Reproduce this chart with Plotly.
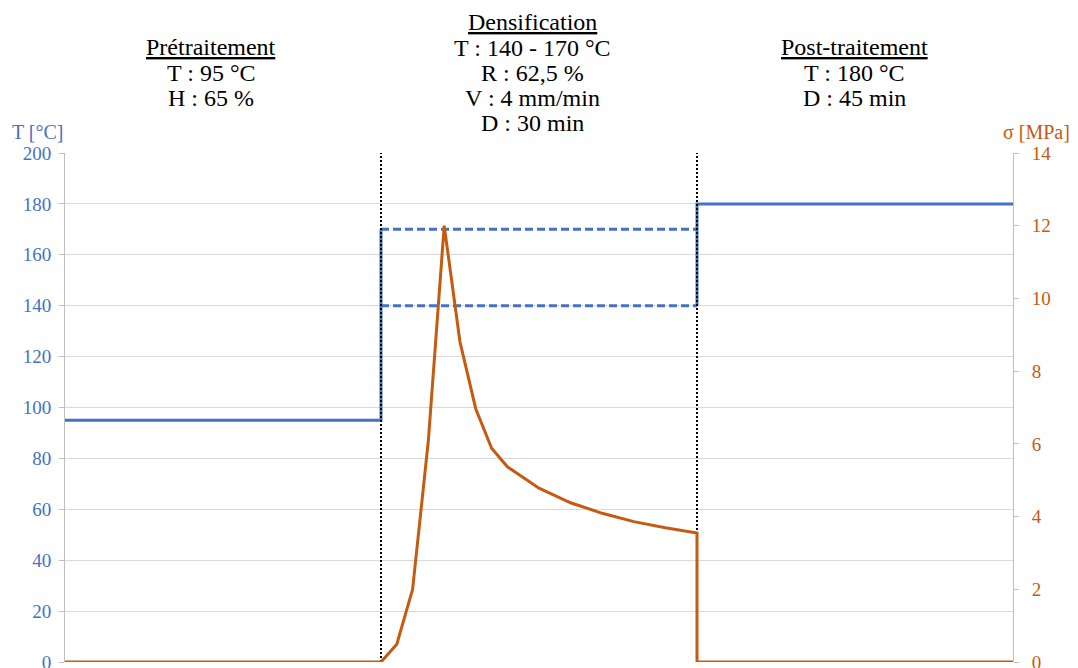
import plotly.graph_objects as go

# ---- data ----
phase_bounds = [0, 1, 2, 3]          # Prétraitement | Densification | Post-traitement
temp_pre_x = [0, 1, 1]
temp_pre_y = [95, 95, 170]
temp_dens_hi_x = [1, 2]
temp_dens_hi_y = [170, 170]
temp_dens_lo_x = [1, 2]
temp_dens_lo_y = [140, 140]
temp_post_x = [2, 2, 3]
temp_post_y = [140, 180, 180]

stress_x = [0, 1.00, 1.05, 1.10, 1.15, 1.20, 1.25, 1.30, 1.35, 1.40,
            1.50, 1.60, 1.70, 1.80, 1.90, 2.00, 2.00, 3.00]
stress_y = [0, 0, 0.49, 2.0, 6.1, 12.0, 8.8, 6.96, 5.88, 5.37,
            4.78, 4.38, 4.09, 3.86, 3.69, 3.55, 0, 0]

headers = [
    ["<u>Prétraitement</u>", "T : 95 °C", "H : 65 %"],
    ["<u>Densification</u>", "T : 140 - 170 °C", "R : 62,5 %", "V : 4 mm/min", "D : 30 min"],
    ["<u>Post-traitement</u>", "T : 180 °C", "D : 45 min"],
]

BLUE = "#4472C4"
ORANGE = "#C55A11"
SERIF = "Liberation Serif"

W, H = 1078, 668
L, R, T, B = 65, 65, 153, 6
PW, PH = W - L - R, H - T - B


def px_x(px):
    return (px - L) / PW


def px_y(py):
    return (H - B - py) / PH


fig = go.Figure()

line_kw = dict(color=BLUE, width=3)
fig.add_trace(go.Scatter(x=temp_pre_x, y=temp_pre_y, mode="lines", line=line_kw))
fig.add_trace(go.Scatter(x=temp_dens_hi_x, y=temp_dens_hi_y, mode="lines",
                         line=dict(color=BLUE, width=3, dash="8px,4px")))
fig.add_trace(go.Scatter(x=temp_dens_lo_x, y=temp_dens_lo_y, mode="lines",
                         line=dict(color=BLUE, width=3, dash="8px,4px")))
fig.add_trace(go.Scatter(x=temp_post_x, y=temp_post_y, mode="lines", line=line_kw))

for xb in phase_bounds[1:3]:
    fig.add_trace(go.Scatter(x=[xb, xb], y=[0, 200], mode="lines",
                             line=dict(color="black", width=2, dash="2px,2px")))

fig.add_trace(go.Scatter(x=stress_x, y=stress_y, mode="lines", yaxis="y2",
                         line=dict(color=ORANGE, width=3)))

# header annotations
centers = [211, 532, 854.5]
first_base = [55, 30, 55]
fs_head = 24
for cx, base0, lines in zip(centers, first_base, headers):
    for i, txt in enumerate(lines):
        base = base0 + 25.2 * i
        fig.add_annotation(x=px_x(cx), y=px_y(base - 7.5), xref="paper", yref="paper",
                           text=txt, showarrow=False, xanchor="center", yanchor="middle",
                           font=dict(family=SERIF, size=fs_head, color="black"))

fig.add_annotation(x=px_x(38), y=px_y(132), xref="paper", yref="paper", text="T [°C]",
                   showarrow=False, xanchor="center", yanchor="middle",
                   font=dict(family=SERIF, size=20, color=BLUE))
fig.add_annotation(x=px_x(1036), y=px_y(132), xref="paper", yref="paper", text="σ [MPa]",
                   showarrow=False, xanchor="center", yanchor="middle",
                   font=dict(family=SERIF, size=20, color=ORANGE))

fig.update_layout(
    width=W, height=H,
    margin=dict(l=L, r=R, t=T, b=B),
    paper_bgcolor="white", plot_bgcolor="white",
    showlegend=False,
    xaxis=dict(range=[0, 3], showgrid=False, zeroline=False, showticklabels=False,
               showline=False, ticks="", automargin=False),
    yaxis=dict(range=[0, 200], dtick=20, tick0=0, showgrid=True, gridcolor="#D9D9D9",
               gridwidth=1, zeroline=False, showline=True, linecolor="#BFBFBF",
               linewidth=1, ticks="outside", ticklen=5, tickcolor="#BFBFBF",
               tickfont=dict(family=SERIF, size=19, color=BLUE), ticklabelstandoff=4,
               ticklabeloverflow="allow", automargin=False),
    yaxis2=dict(range=[0, 14], dtick=2, tick0=0, overlaying="y", side="right",
                showgrid=False, zeroline=False, showline=True, linecolor="#BFBFBF",
                linewidth=1, ticks="outside", ticklen=5, tickcolor="#BFBFBF",
                tickfont=dict(family=SERIF, size=19, color=ORANGE), ticklabelstandoff=9,
                ticklabeloverflow="allow", automargin=False),
)

fig.write_html("out.html")
